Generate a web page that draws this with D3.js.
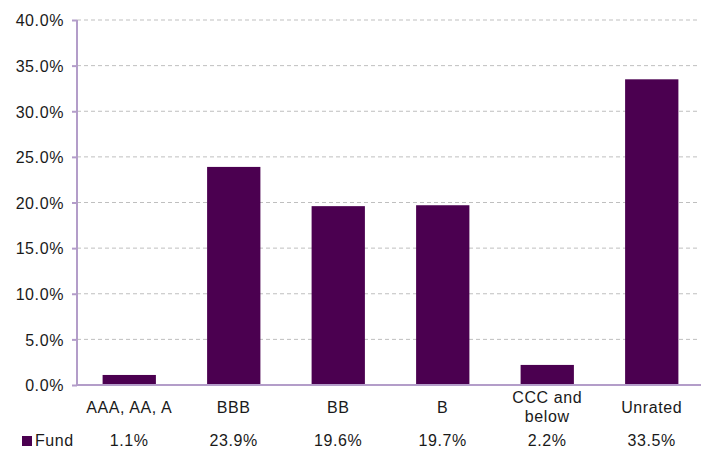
<!DOCTYPE html>
<html>
<head>
<meta charset="utf-8">
<script src="https://cdn.jsdelivr.net/npm/d3@7"></script>
<style>
  body { margin: 0; background: #fff; }
  svg text { font-family: "Liberation Sans", Arial, sans-serif; fill: #1a1a1a; letter-spacing: 0.6px; }
</style>
</head>
<body>
<svg id="chart" width="701" height="450"></svg>
<script>
// Credit quality breakdown of the fund
const categories = [["AAA, AA, A"], ["BBB"], ["BB"], ["B"], ["CCC and", "below"], ["Unrated"]];
const fundValues = [1.1, 23.9, 19.6, 19.7, 2.2, 33.5];
const yTicks = [0, 5, 10, 15, 20, 25, 30, 35, 40];
const seriesName = "Fund";

const svg = d3.select("#chart");
const plotLeft = 77, plotRight = 704, plotTop = 20, plotBottom = 385;
const barColor = "#4B0050";
const axisColor = "#B39DC9";
const fontSize = 16;

const x = d3.scaleBand()
  .domain(d3.range(categories.length))
  .range([plotLeft, plotRight])
  .paddingInner(0.49)
  .paddingOuter(0.245);

const y = d3.scaleLinear().domain([0, 40]).range([plotBottom, plotTop]);

// dashed gridlines
svg.append("g")
  .selectAll("line")
  .data(yTicks.filter(t => t > 0))
  .join("line")
  .attr("x1", plotLeft).attr("x2", 700)
  .attr("y1", d => y(d)).attr("y2", d => y(d))
  .attr("stroke", "#BFBFBF")
  .attr("stroke-width", 1)
  .attr("stroke-dasharray", "4,3");

// bars
svg.append("g")
  .selectAll("rect")
  .data(fundValues)
  .join("rect")
  .attr("x", (d, i) => x(i))
  .attr("width", x.bandwidth())
  .attr("y", d => y(d))
  .attr("height", d => y(0) - y(d))
  .attr("fill", barColor);

// y axis
const yAxis = d3.axisLeft(y)
  .tickValues(yTicks)
  .tickFormat(d => d.toFixed(1) + "%")
  .tickSize(5)
  .tickPadding(8);
const ya = svg.append("g").attr("transform", `translate(${plotLeft},0)`).call(yAxis);
ya.select(".domain").attr("stroke", axisColor).attr("stroke-width", 2).attr("d", `M0,${plotTop}V${plotBottom}`);
ya.selectAll(".tick line").attr("stroke", axisColor).attr("stroke-width", 2);
ya.selectAll(".tick text").attr("font-size", fontSize).attr("dy", "0.36em");

// x baseline
svg.append("line")
  .attr("x1", plotLeft).attr("x2", 701)
  .attr("y1", y(0)).attr("y2", y(0))
  .attr("stroke", axisColor).attr("stroke-width", 2);

// category labels
const cat = svg.append("g");
categories.forEach((lines, i) => {
  const cx = x(i) + x.bandwidth() / 2;
  const t = cat.append("text")
    .attr("text-anchor", "middle")
    .attr("font-size", fontSize);
  const startY = lines.length === 1 ? 413 : 403;
  lines.forEach((ln, j) => {
    t.append("tspan").attr("x", cx).attr("y", startY + j * 19).text(ln);
  });
});

// data table row
svg.append("rect").attr("x", 22).attr("y", 436).attr("width", 10).attr("height", 10).attr("fill", barColor);
svg.append("text").attr("x", 35).attr("y", 446).attr("font-size", fontSize).text(seriesName);
svg.append("g")
  .selectAll("text")
  .data(fundValues)
  .join("text")
  .attr("x", (d, i) => x(i) + x.bandwidth() / 2)
  .attr("y", 446)
  .attr("text-anchor", "middle")
  .attr("font-size", fontSize)
  .text(d => d.toFixed(1) + "%");
</script>
</body>
</html>
